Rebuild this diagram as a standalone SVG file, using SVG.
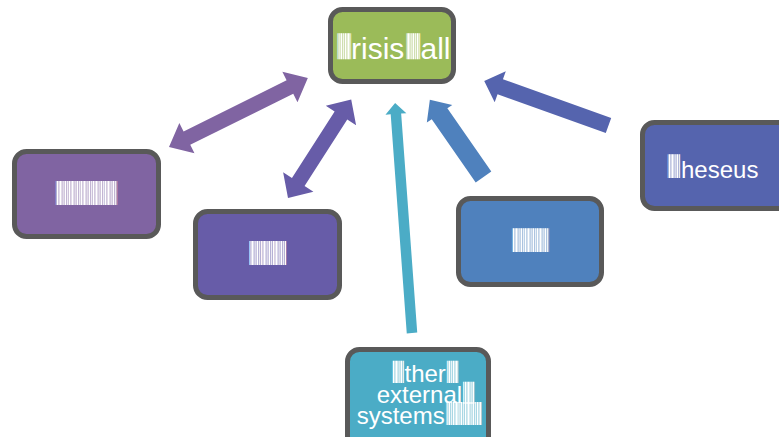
<svg xmlns="http://www.w3.org/2000/svg" width="779" height="437" viewBox="0 0 779 437">
  <defs>
    <!-- striped fill used for the unrendered glyph cells -->
    <pattern id="bars" patternUnits="userSpaceOnUse" width="12" height="10">
      <rect width="12" height="10" fill="#fff" fill-opacity="0.4"/>
      <rect x="0" width="1.6" height="10" fill="#fff"/>
      <rect x="2.6" width="1" height="10" fill="#fff"/>
      <rect x="4.6" width="1.6" height="10" fill="#fff"/>
      <rect x="7.2" width="0.8" height="10" fill="#fff"/>
      <rect x="8.8" width="1.6" height="10" fill="#fff"/>
      <rect x="11.2" width="0.6" height="10" fill="#fff"/>
    </pattern>
  </defs>
  <style>
    .box { stroke: #595959; stroke-width: 5; }
    .lbl { font-family: "Liberation Sans", Arial, sans-serif; fill: #fff; }
    .tofu { font-family: "DejaVu Sans Mono", monospace; fill: url(#bars); }
  </style>

  <rect width="779" height="437" fill="#fff"/>

  <g id="connectors">
    <!-- double arrow: left purple node <-> CrisisHall -->
    <polygon fill="#8064A2" transform="translate(169,147) rotate(-26.4)"
      points="0,0 20,-17 20,-7.5 135,-7.5 135,-17 155,0 135,17 135,7.5 20,7.5 20,17"/>
    <!-- double arrow: middle purple node <-> CrisisHall -->
    <polygon fill="#675CA8" transform="translate(288,198) rotate(-57.3)"
      points="0,0 19,-18 19,-7.5 98,-7.5 98,-18 117,0 98,18 98,7.5 19,7.5 19,18"/>
    <!-- other external systems -> CrisisHall -->
    <polygon fill="#4BACC6" transform="translate(412,333) rotate(-94.2)"
      points="0,-5.25 219.6,-5.25 219.6,-10.5 230.6,0 219.6,10.5 219.6,5.25 0,5.25"/>
    <!-- blue node -> CrisisHall -->
    <polygon fill="#4F81BD" transform="translate(483.5,177) rotate(-124.8)"
      points="0,-9.5 77,-9.5 77,-15.5 94,0 77,15.5 77,9.5 0,9.5"/>
    <!-- Theseus -> CrisisHall -->
    <polygon fill="#5564AE" transform="translate(608.5,125.5) rotate(-160.3)"
      points="0,-8 115,-8 115,-16.5 132,0 115,16.5 115,8 0,8"/>
  </g>

  <g id="crisishall">
    <rect class="box" x="330.5" y="9.5" width="123" height="72" rx="12" fill="#9BBB59"/>
    <text class="lbl" font-size="30"><tspan class="tofu" x="337.5" y="53.8" font-size="22">█</tspan><tspan x="351" y="59">risis</tspan><tspan class="tofu" x="406.5" y="53.8" font-size="22">█</tspan><tspan x="420.5" y="59">all</tspan></text>
  </g>

  <g id="node-left">
    <rect class="box" x="14.5" y="151.5" width="144" height="85" rx="12" fill="#8064A2"/>
    <text class="lbl"><tspan class="tofu" x="56" y="200.2" font-size="20.2">█████</tspan></text>
  </g>

  <g id="node-middle">
    <rect class="box" x="195.5" y="211.5" width="144" height="86" rx="12" fill="#675CA8"/>
    <text class="lbl"><tspan class="tofu" x="249.5" y="260.2" font-size="20.2">███</tspan></text>
  </g>

  <g id="node-blue">
    <rect class="box" x="458.5" y="198.5" width="143" height="86" rx="12" fill="#4F81BD"/>
    <text class="lbl"><tspan class="tofu" x="512.5" y="247.3" font-size="20">███</tspan></text>
  </g>

  <g id="theseus">
    <rect class="box" x="642.5" y="122.5" width="150" height="86" rx="12" fill="#5564AE"/>
    <text class="lbl" font-size="24"><tspan class="tofu" x="668" y="173.3" font-size="20">█</tspan><tspan x="681" y="178">heseus</tspan></text>
  </g>

  <g id="other-systems">
    <rect class="box" x="347.5" y="349.5" width="141" height="100" rx="12" fill="#4BACC6"/>
    <text class="lbl" font-size="24"><tspan class="tofu" x="392.5" y="377.6" font-size="18.6">█</tspan><tspan x="404.5" y="382">ther</tspan><tspan class="tofu" x="446.8" y="377.6" font-size="18.6">█</tspan><tspan x="376.7" y="403">external</tspan><tspan class="tofu" x="463" y="398.6" font-size="18.6">█</tspan><tspan x="356.7" y="424">systems</tspan><tspan class="tofu" x="446.2" y="420.4" font-size="19.4">███</tspan></text>
  </g>
</svg>
